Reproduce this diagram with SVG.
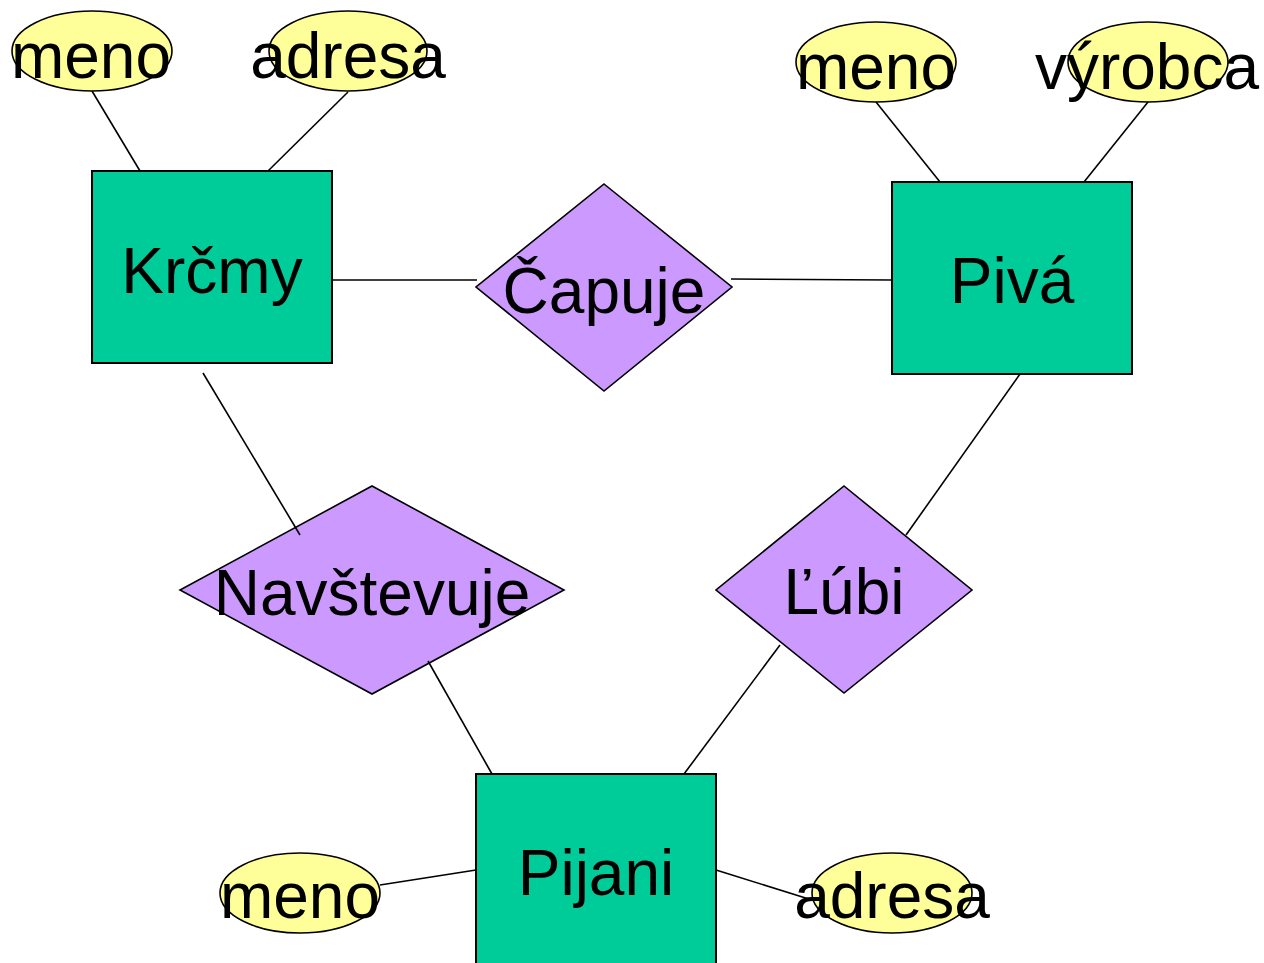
<svg xmlns="http://www.w3.org/2000/svg" width="1264" height="963" viewBox="0 0 1264 963">
<style>
.ent{fill:#00CC99;stroke:#000;stroke-width:2}
.rel{fill:#CC99FF;stroke:#000;stroke-width:1.6}
.att{fill:#FFFF99;stroke:#000;stroke-width:1.6}
.t{font-family:"Liberation Sans",Arial,sans-serif;font-size:64px;fill:#000;text-anchor:middle}
.c line{stroke:#000;stroke-width:1.6}
</style>
<rect width="1264" height="963" fill="#fff"/>
<g id="krcmy"><rect class="ent" x="92" y="171" width="240" height="192"/><text class="t" x="212" y="293">Krčmy</text></g>
<g id="piva"><rect class="ent" x="892" y="182" width="240" height="192"/><text class="t" x="1012" y="303">Pivá</text></g>
<g id="pijani"><rect class="ent" x="476" y="774" width="240" height="200"/><text class="t" x="596" y="895">Pijani</text></g>
<g id="capuje"><polygon class="rel" points="604,184 732,287 604,391 476,287"/><text class="t" x="604" y="313">Čapuje</text></g>
<g id="navstevuje"><polygon class="rel" points="372,486 564,590 372,694 180,590"/><text class="t" x="372" y="615">Navštevuje</text></g>
<g id="lubi"><polygon class="rel" points="844,486 972,590 844,693 716,590"/><text class="t" x="844" y="614">Ľúbi</text></g>
<g id="meno1"><ellipse class="att" cx="92" cy="51" rx="80" ry="40"/><text class="t" x="91" y="78">meno</text></g>
<g id="adresa1"><ellipse class="att" cx="348" cy="51" rx="79" ry="40"/><text class="t" x="348" y="78">adresa</text></g>
<g id="meno2"><ellipse class="att" cx="876" cy="62" rx="80" ry="40"/><text class="t" x="876" y="89">meno</text></g>
<g id="vyrobca"><ellipse class="att" cx="1148" cy="62" rx="80" ry="40"/><text class="t" x="1147" y="89">výrobca</text></g>
<g id="meno3"><ellipse class="att" cx="300" cy="893" rx="80" ry="40"/><text class="t" x="300" y="918">meno</text></g>
<g id="adresa3"><ellipse class="att" cx="892" cy="893" rx="80" ry="40"/><text class="t" x="892" y="918">adresa</text></g>
<g class="c" id="connectors">
<line x1="92" y1="91" x2="140" y2="171"/>
<line x1="348" y1="92" x2="268" y2="171"/>
<line x1="876" y1="102" x2="940" y2="182"/>
<line x1="1148" y1="102" x2="1084" y2="182"/>
<line x1="332" y1="280" x2="477" y2="280"/>
<line x1="731" y1="279" x2="892" y2="280"/>
<line x1="203" y1="373" x2="300" y2="535"/>
<line x1="428" y1="661" x2="492" y2="774"/>
<line x1="1020" y1="374" x2="906" y2="535"/>
<line x1="780" y1="645" x2="684" y2="774"/>
<line x1="380" y1="885" x2="476" y2="870"/>
<line x1="716" y1="870" x2="812" y2="900"/>
</g>
</svg>
